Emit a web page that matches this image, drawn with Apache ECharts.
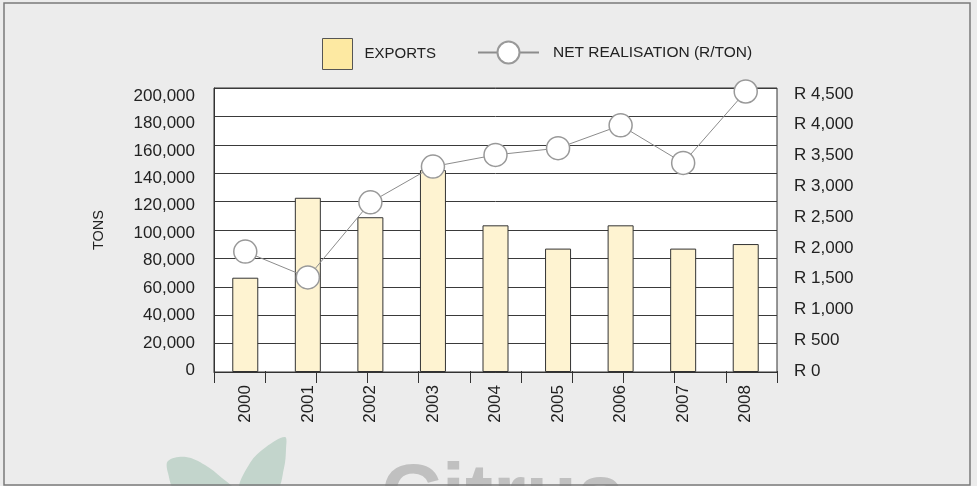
<!DOCTYPE html>
<html>
<head>
<meta charset="utf-8">
<script src="https://cdn.jsdelivr.net/npm/echarts@6/dist/echarts.min.js"></script>
<style>
  html, body { margin: 0; padding: 0; background: #ececec; }
  #chart { width: 977px; height: 486px; }
</style>
</head>
<body>
<div id="chart"></div>
<script>
var years = ['2000', '2001', '2002', '2003', '2004', '2005', '2006', '2007', '2008'];
var exportsTons = [66400, 122700, 109000, 142200, 103300, 86900, 103300, 86900, 90100];
var netRealisation = [1940, 1520, 2740, 3320, 3510, 3620, 3990, 3380, 4540];
var tonTicks = [0, 20000, 40000, 60000, 80000, 100000, 120000, 140000, 160000, 180000, 200000];
var randTicks = [0, 500, 1000, 1500, 2000, 2500, 3000, 3500, 4000, 4500];

var chart = echarts.init(document.getElementById('chart'), null, { renderer: 'canvas' });

function commas(v) {
  return String(v).replace(/\B(?=(\d{3})+(?!\d))/g, ',');
}

var font = 'Liberation Sans';

var option = {
  backgroundColor: '#ececec',
  animation: false,
  textStyle: { fontFamily: font },
  grid: {
    left: 214,
    right: 200,
    top: 88,
    bottom: 114,
    show: true,
    backgroundColor: '#fff',
    borderColor: '#333',
    borderWidth: 1
  },
  legend: [
    {
      data: ['EXPORTS'],
      icon: 'rect',
      left: 322,
      top: 38,
      padding: 0,
      itemWidth: 30,
      itemHeight: 31,
      selectedMode: false,
      itemStyle: { color: '#fde9a2', borderColor: '#555', borderWidth: 1 },
      textStyle: { fontFamily: font, fontSize: 15, color: '#222', padding: [0, 0, 0, 7] }
    },
    {
      data: ['NET REALISATION (R/TON)'],
      left: 477,
      top: 40.5,
      padding: 0,
      itemWidth: 61,
      itemHeight: 27.5,
      selectedMode: false,
      textStyle: { fontFamily: font, fontSize: 15.5, color: '#222', padding: [0, 0, 0, 9] }
    }
  ],
  xAxis: [
    {
      type: 'category',
      data: years,
      position: 'bottom',
      axisLine: { lineStyle: { color: '#333' } },
      axisTick: { show: false },
      axisLabel: { rotate: 90, margin: 13, fontSize: 17, color: '#222', fontFamily: font }
    },
    {
      type: 'value',
      position: 'bottom',
      min: 0,
      max: 11,
      interval: 1,
      axisLine: { show: false },
      axisTick: { show: true, length: 12, lineStyle: { color: '#333' } },
      axisLabel: { show: false },
      splitLine: { show: false }
    }
  ],
  yAxis: [
    {
      type: 'value',
      position: 'left',
      min: 0,
      max: 200000,
      interval: 20000,
      name: 'TONS',
      nameLocation: 'middle',
      nameRotate: 90,
      nameGap: 108,
      nameTextStyle: { fontSize: 14.5, color: '#222', fontFamily: font },
      axisLine: { show: true, lineStyle: { color: '#333' } },
      axisTick: { show: false },
      axisLabel: { show: false },
      splitLine: { show: true, lineStyle: { color: '#3a3a3a', width: 1 } }
    },
    {
      type: 'value',
      position: 'right',
      min: -16,
      max: 4597,
      axisLine: { show: false },
      axisTick: { show: false },
      splitLine: { show: false },
      axisLabel: {
        customValues: randTicks,
        margin: 17,
        fontSize: 17,
        color: '#222',
        fontFamily: font,
        formatter: function (v) { return 'R ' + commas(v); }
      }
    },
    {
      type: 'value',
      position: 'left',
      min: -1297,
      max: 205982,
      axisLine: { show: false },
      axisTick: { show: false },
      splitLine: { show: false },
      axisLabel: {
        customValues: tonTicks,
        margin: 19,
        fontSize: 17,
        color: '#222',
        fontFamily: font,
        formatter: function (v) { return commas(v); }
      }
    }
  ],
  series: [
    {
      name: 'EXPORTS',
      type: 'bar',
      xAxisIndex: 0,
      yAxisIndex: 0,
      data: exportsTons,
      barWidth: 26,
      itemStyle: { color: '#fef3d1', borderColor: '#333', borderWidth: 1 },
      z: 2
    },
    {
      name: 'NET REALISATION (R/TON)',
      type: 'line',
      xAxisIndex: 0,
      yAxisIndex: 1,
      data: netRealisation,
      symbol: 'circle',
      symbolSize: 23,
      lineStyle: { color: '#8c8c8c', width: 1 },
      itemStyle: { color: '#fff', borderColor: '#999', borderWidth: 1.5 },
      z: 3
    }
  ],
  graphic: [
    {
      type: 'polygon',
      z: 0,
      shape: {
        points: [[168, 461], [186, 457], [205, 465], [222, 478], [234, 490], [176, 490], [168, 473]],
        smooth: 0.35
      },
      style: { fill: '#c3d5cc' }
    },
    {
      type: 'polygon',
      z: 0,
      shape: {
        points: [[285, 437], [266, 447], [250, 463], [240, 490], [276, 490], [284, 468], [286, 449]],
        smooth: 0.35
      },
      style: { fill: '#c3d5cc' }
    },
    {
      type: 'text',
      z: 0,
      x: 381,
      y: 457,
      style: {
        text: 'Citrus',
        font: 'bold 84px "Liberation Sans"',
        fill: '#c0c0c0',
        verticalAlign: 'top'
      }
    },
    {
      type: 'rect',
      z: 10,
      shape: { x: 4, y: 3, width: 966, height: 482 },
      style: { fill: 'none', stroke: '#7a7a7a', lineWidth: 1.5 }
    }
  ]
};

chart.setOption(option);
window.addEventListener('resize', chart.resize);
</script>
</body>
</html>
